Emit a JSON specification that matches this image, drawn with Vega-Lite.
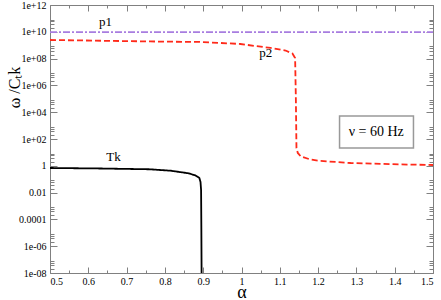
{
  "$schema": "https://vega.github.io/schema/vega-lite/v6.json",
  "width": 383,
  "height": 268,
  "autosize": "none",
  "padding": {"left": 50, "top": 5, "right": 8, "bottom": 27},
  "background": "white",
  "config": {"view": {"stroke": null}, "font": "Liberation Serif", "axis": {"grid": false}},
  "datasets": {
    "curves": [
      {"series": "p1", "alpha": 0.5, "value": 9.5e9},
      {"series": "p1", "alpha": 1.5, "value": 9.5e9},
      {"series": "p2", "alpha": 0.5, "value": 2.45e9},
      {"series": "p2", "alpha": 0.762, "value": 1.9e9},
      {"series": "p2", "alpha": 0.893, "value": 1.74e9},
      {"series": "p2", "alpha": 0.997, "value": 1.23e9},
      {"series": "p2", "alpha": 1.076, "value": 6.2e8},
      {"series": "p2", "alpha": 1.115, "value": 4e8},
      {"series": "p2", "alpha": 1.133, "value": 2.4e8},
      {"series": "p2", "alpha": 1.14, "value": 1.1e8},
      {"series": "p2", "alpha": 1.142, "value": 8.1e4},
      {"series": "p2", "alpha": 1.1435, "value": 21},
      {"series": "p2", "alpha": 1.147, "value": 9.1},
      {"series": "p2", "alpha": 1.155, "value": 4.9},
      {"series": "p2", "alpha": 1.18, "value": 2.95},
      {"series": "p2", "alpha": 1.206, "value": 2.3},
      {"series": "p2", "alpha": 1.285, "value": 1.62},
      {"series": "p2", "alpha": 1.415, "value": 1.26},
      {"series": "p2", "alpha": 1.5, "value": 1.15},
      {"series": "Tk", "alpha": 0.5, "value": 0.686},
      {"series": "Tk", "alpha": 0.63, "value": 0.63},
      {"series": "Tk", "alpha": 0.76, "value": 0.55},
      {"series": "Tk", "alpha": 0.815, "value": 0.43},
      {"series": "Tk", "alpha": 0.862, "value": 0.275},
      {"series": "Tk", "alpha": 0.88, "value": 0.19},
      {"series": "Tk", "alpha": 0.89, "value": 0.123},
      {"series": "Tk", "alpha": 0.893, "value": 0.062},
      {"series": "Tk", "alpha": 0.8945, "value": 0.0155},
      {"series": "Tk", "alpha": 0.8952, "value": 1.6e-5},
      {"series": "Tk", "alpha": 0.8958, "value": 1e-8}
    ],
    "labels": [
      {"label": "p1", "alpha": 0.645, "value": 5.4e10},
      {"label": "p2", "alpha": 1.063, "value": 2.6e8},
      {"label": "Tk", "alpha": 0.666, "value": 4.6}
    ],
    "box": [
      {"text": "ν = 60 Hz", "a1": 1.256, "a2": 1.449, "v1": 5250, "v2": 21.4, "ac": 1.352, "vc": 331}
    ]
  },
  "layer": [
    {
      "data": {"name": "box"},
      "mark": {"type": "rect", "fill": "white", "stroke": "#999999", "strokeWidth": 1.5},
      "encoding": {
        "x": {"field": "a1", "type": "quantitative", "scale": {"domain": [0.5, 1.5]},
          "axis": {"orient": "top", "labels": false, "title": null, "grid": false, "domainColor": "#808080", "tickColor": "#808080",
            "values": [0.5,0.55,0.6,0.65,0.7,0.75,0.8,0.85,0.9,0.95,1,1.05,1.1,1.15,1.2,1.25,1.3,1.35,1.4,1.45,1.5],
            "tickSize": {"condition": {"test": "abs(datum.value*10 - round(datum.value*10)) < 0.01", "value": -6}, "value": -3}}},
        "x2": {"field": "a2"},
        "y": {"field": "v1", "type": "quantitative", "scale": {"type": "log", "domain": [1e-8, 1e12]},
          "axis": {"orient": "right", "labels": false, "title": null, "grid": false, "domainColor": "#808080", "tickColor": "#808080",
            "values": [1e-8,2e-8,4e-8,6e-8,8e-8,1e-6,2e-6,4e-6,6e-6,8e-6,1e-4,2e-4,4e-4,6e-4,8e-4,0.01,0.02,0.04,0.06,0.08,1,2,4,6,8,100,200,400,600,800,1e4,2e4,4e4,6e4,8e4,1e6,2e6,4e6,6e6,8e6,1e8,2e8,4e8,6e8,8e8,1e10,2e10,4e10,6e10,8e10,1e12],
            "tickSize": {"condition": {"test": "abs(log(datum.value)/LN10 - round(log(datum.value)/LN10)) < 0.01", "value": -7}, "value": -4}}},
        "y2": {"field": "v2"}
      }
    },
    {
      "data": {"name": "curves"},
      "mark": {"type": "line", "strokeWidth": 1.8, "clip": true},
      "encoding": {
        "x": {"field": "alpha", "type": "quantitative", "scale": {"domain": [0.5, 1.5]},
          "axis": {"orient": "bottom", "title": "α", "titleFontSize": 18, "titleFont": "Liberation Serif", "titleFontWeight": "normal",
            "titleBaseline": "alphabetic", "titleY": 24, "grid": false,
            "labelFont": "Liberation Serif", "labelFontSize": 10, "labelColor": "#000000", "labelFlush": true, "labelOverlap": false, "labelPadding": 9,
            "domainColor": "#808080", "tickColor": "#808080",
            "values": [0.5,0.55,0.6,0.65,0.7,0.75,0.8,0.85,0.9,0.95,1,1.05,1.1,1.15,1.2,1.25,1.3,1.35,1.4,1.45,1.5],
            "labelExpr": "abs(datum.value*10 - round(datum.value*10)) < 0.01 ? format(datum.value, '.2~g') : ''",
            "tickSize": {"condition": {"test": "abs(datum.value*10 - round(datum.value*10)) < 0.01", "value": -6}, "value": -3}}},
        "y": {"field": "value", "type": "quantitative", "scale": {"type": "log", "domain": [1e-8, 1e12]},
          "axis": {"orient": "left", "title": "ω /Cₜk", "titleFontSize": 16, "titleFont": "Liberation Serif", "titleFontWeight": "normal",
            "titleX": -31, "titleY": 82, "titleBaseline": "alphabetic", "grid": false,
            "labelFont": "Liberation Serif", "labelFontSize": 10, "labelColor": "#000000", "labelFlush": false, "labelOverlap": false, "labelPadding": 11,
            "domainColor": "#808080", "tickColor": "#808080",
            "values": [1e-8,2e-8,4e-8,6e-8,8e-8,1e-6,2e-6,4e-6,6e-6,8e-6,1e-4,2e-4,4e-4,6e-4,8e-4,0.01,0.02,0.04,0.06,0.08,1,2,4,6,8,100,200,400,600,800,1e4,2e4,4e4,6e4,8e4,1e6,2e6,4e6,6e6,8e6,1e8,2e8,4e8,6e8,8e8,1e10,2e10,4e10,6e10,8e10,1e12],
            "labelExpr": "abs(log(datum.value)/LN10 - round(log(datum.value)/LN10)) < 0.01 ? ['1e-08','1e-06','0.0001','0.01','1','1e+02','1e+04','1e+06','1e+08','1e+10','1e+12'][round(log(datum.value)/LN10/2)+4] : ''",
            "tickSize": {"condition": {"test": "abs(log(datum.value)/LN10 - round(log(datum.value)/LN10)) < 0.01", "value": -7}, "value": -4}}},
        "color": {"field": "series", "type": "nominal", "scale": {"domain": ["p1", "p2", "Tk"], "range": ["#a87de0", "#ff2a1a", "#000000"]}, "legend": null},
        "strokeDash": {"field": "series", "type": "nominal", "scale": {"domain": ["p1", "p2", "Tk"], "range": [[7, 2, 2, 2], [6, 3], [1, 0]]}, "legend": null}
      }
    },
    {
      "data": {"name": "labels"},
      "mark": {"type": "text", "font": "Liberation Serif", "fontSize": 13, "color": "#000000", "align": "center", "baseline": "middle"},
      "encoding": {
        "x": {"field": "alpha", "type": "quantitative", "axis": null},
        "y": {"field": "value", "type": "quantitative", "scale": {"type": "log"}, "axis": null},
        "text": {"field": "label"}
      }
    },
    {
      "data": {"name": "box"},
      "mark": {"type": "text", "font": "Liberation Serif", "fontSize": 14, "color": "#000000", "align": "center", "baseline": "middle"},
      "encoding": {
        "x": {"field": "ac", "type": "quantitative", "axis": null},
        "y": {"field": "vc", "type": "quantitative", "scale": {"type": "log"}, "axis": null},
        "text": {"field": "text"}
      }
    }
  ],
  "resolve": {"axis": {"x": "independent", "y": "independent"}}
}
